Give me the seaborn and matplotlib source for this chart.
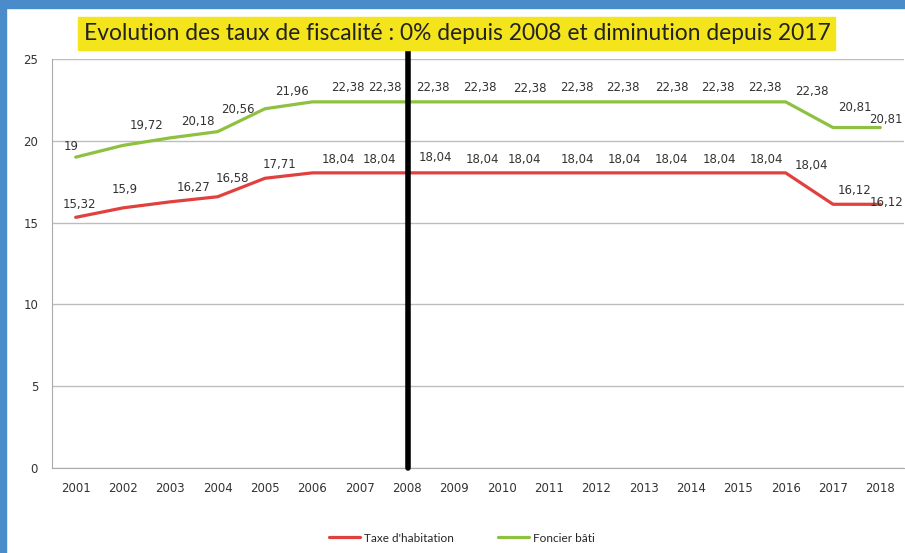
import numpy as np
import pandas as pd
import seaborn as sns
from matplotlib import pyplot as plt
from matplotlib.patches import Rectangle

# Data
years = [2001, 2002, 2003, 2004, 2005, 2006, 2007, 2008, 2009,
         2010, 2011, 2012, 2013, 2014, 2015, 2016, 2017, 2018]
taxe_habitation = [15.32, 15.9, 16.27, 16.58, 17.71, 18.04, 18.04, 18.04, 18.04,
                   18.04, 18.04, 18.04, 18.04, 18.04, 18.04, 18.04, 16.12, 16.12]
foncier_bati = [19, 19.72, 20.18, 20.56, 21.96, 22.38, 22.38, 22.38, 22.38,
                22.38, 22.38, 22.38, 22.38, 22.38, 22.38, 22.38, 20.81, 20.81]
series_names = ["Taxe d'habitation", "Foncier bâti"]
title = "Evolution des taux de fiscalité : 0% depuis 2008 et diminution depuis 2017"
marker_year = 2008

# Data label offsets in pixels (dx, up), as placed in the original Excel chart
hab_offsets = [(4, 13), (2, 18), (23, 14), (15, 18), (15, 14), (26, 13), (20, 13), (28, 15), (28, 13),
               (23, 13), (28, 13), (28, 13), (28, 13), (28, 13), (28, 13), (26, 7), (22, 14), (6, 2)]
fon_offsets = [(-4, 11), (24, 20), (28, 16), (20, 22), (27, 17), (36, 14), (25, 14), (26, 14), (26, 14),
               (28, 13), (28, 14), (27, 14), (28, 14), (27, 14), (27, 14), (26, 10), (22, 20), (6, 8)]

df = pd.DataFrame({
    'idx': list(range(len(years))) * 2,
    'value': taxe_habitation + foncier_bati,
    'serie': [series_names[0]] * len(years) + [series_names[1]] * len(years),
})

sns.set_style('white')
plt.rcParams['font.family'] = ['DejaVu Sans']
narrow = ['Lato', 'DejaVu Sans']

fig = plt.figure(figsize=(9.05, 5.53), dpi=100)
fig.patch.set_facecolor('white')
# blue frame on left and top
fig.patches.append(Rectangle((0, 0), 6 / 905, 1, transform=fig.transFigure, color='#4a8bc9', zorder=0))
fig.patches.append(Rectangle((0, 1 - 8 / 553), 1, 8 / 553, transform=fig.transFigure, color='#4a8bc9', zorder=0))

ax = fig.add_axes([52 / 905, (553 - 468) / 553, (904 - 52) / 905, (468 - 59) / 553])

palette = {series_names[0]: '#e0413f', series_names[1]: '#8dc13f'}
sns.lineplot(data=df, x='idx', y='value', hue='serie', palette=palette, linewidth=2.3, ax=ax, legend=False)

for i, v in enumerate(taxe_habitation):
    ax.annotate(f'{v:g}'.replace('.', ','), (i, v), xytext=hab_offsets[i], textcoords='offset pixels',
                ha='center', va='center', fontsize=8.5, color='#333333')
for i, v in enumerate(foncier_bati):
    ax.annotate(f'{v:g}'.replace('.', ','), (i, v), xytext=fon_offsets[i], textcoords='offset pixels',
                ha='center', va='center', fontsize=8.5, color='#333333')

ax.set_ylim(0, 25)
ax.set_xlim(-0.5, len(years) - 0.5)
ax.set_yticks([0, 5, 10, 15, 20, 25])
ax.yaxis.grid(True, color='#bdbdbd', linewidth=1)
ax.set_xticks(range(len(years)))
ax.set_xticklabels([str(y) for y in years], fontsize=8.5, color='#333333')
ax.set_xticks(np.arange(-0.5, len(years), 1), minor=True)
ax.tick_params(axis='x', which='major', length=0, pad=10)
ax.tick_params(axis='x', which='minor', length=4, color='#999999', direction='out')
ax.tick_params(axis='y', length=4, color='#999999', labelsize=8.5, labelcolor='#333333', direction='out', pad=6)
ax.set_xlabel('')
ax.set_ylabel('')
for s in ['top', 'right']:
    ax.spines[s].set_visible(False)
for s in ['left', 'bottom']:
    ax.spines[s].set_color('#aaaaaa')

# black vertical line at 2008, extending above the plot
ax.axvline(years.index(marker_year) + 0.03, ymin=0, ymax=(468 - 49) / (468 - 59), color='black',
           linewidth=4, clip_on=False, zorder=5)

# yellow title box
fig.patches.append(Rectangle((78 / 905, 1 - 50 / 553), 757 / 905, 33 / 553, transform=fig.transFigure,
                             color='#f4e41c', zorder=1))
fig.text(457 / 905, 1 - 34 / 553, title, ha='center', va='center', fontsize=16.4, color='#222222',
         family=narrow, zorder=6)

handles = [plt.Line2D([], [], color=palette[n], linewidth=2.3) for n in series_names]
fig.legend(handles, series_names, loc='center', bbox_to_anchor=(462 / 905, 1 - 538 / 553), ncol=2,
           frameon=False, handlelength=2.6, columnspacing=3.8, handletextpad=0.3,
           prop={'family': narrow, 'size': 8.5})

fig.savefig('out.png', dpi=100)
